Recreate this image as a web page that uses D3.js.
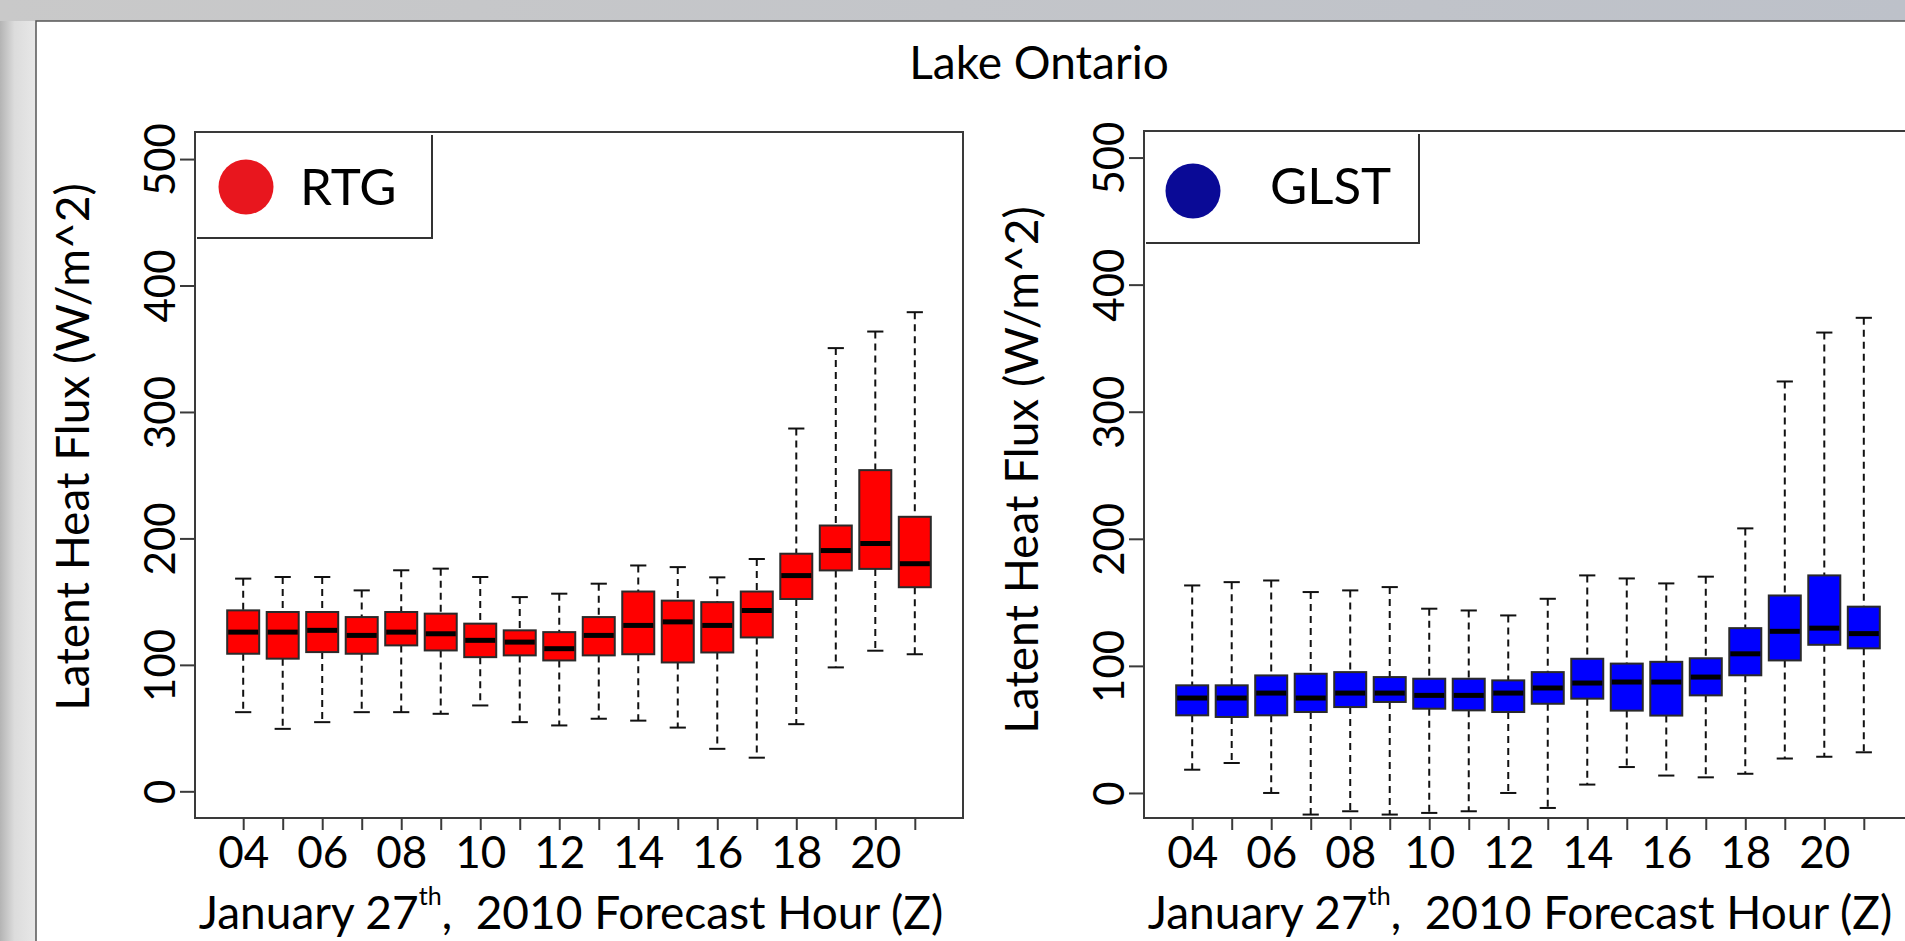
<!DOCTYPE html>
<html lang="en">
<head>
<meta charset="UTF-8">
<title>Lake Ontario - Latent Heat Flux</title>
<script src="https://d3js.org/d3.v7.min.js"></script>
<style>
  body { margin: 0; overflow: hidden; background: #cfcfcf; }
  svg { display: block; font-family: Lato, "Open Sans", sans-serif; }
  .whisker { stroke: #111; stroke-width: 2; stroke-dasharray: 7,5; }
  .staple { stroke: #111; stroke-width: 2; }
  .box { stroke: #2a2a2a; stroke-width: 2; }
  .median { stroke: #000; stroke-width: 5; }
  .frame { fill: none; stroke: #3a3a3a; stroke-width: 2; }
  .legend-line { fill: none; stroke: #333; stroke-width: 2; }
  .axis path.domain { display: none; }
  .axis line { stroke: #3a3a3a; stroke-width: 2; }
</style>
</head>
<body>
<svg id="chart" width="1905" height="941"></svg>
<script>
// forecast hours (Z), one box per hour
const hours = ["04","05","06","07","08","09","10","11","12","13","14","15","16","17","18","19","20","21"];
const yTicks = [0, 100, 200, 300, 400, 500];

// RTG run: whisker low, Q1, median, Q3, whisker high (W/m^2)
const rtgLow  = [62.6, 49.4, 54.7, 62.6, 62.6, 61.3, 67.9, 54.7, 52.1, 57.4, 55.9, 50.4, 33.6, 26.6, 53.1, 98.0, 111.2, 108.4];
const rtgQ1   = [108.8, 104.9, 110.1, 108.8, 115.4, 111.4, 106.1, 107.5, 103.5, 107.5, 108.4, 101.9, 109.8, 121.7, 152.1, 174.7, 175.9, 161.4];
const rtgMed  = [125.9, 125.9, 127.3, 123.3, 125.9, 124.6, 119.4, 118.0, 112.8, 123.3, 131.2, 134.0, 131.2, 143.0, 170.6, 190.4, 196.0, 180.0];
const rtgQ3   = [143.1, 141.8, 141.8, 137.8, 141.8, 140.5, 132.6, 127.3, 125.9, 137.8, 158.0, 150.8, 149.6, 158.0, 187.9, 210.2, 254.0, 217.1];
const rtgHigh = [168.2, 169.5, 169.5, 158.9, 174.8, 176.1, 169.5, 153.6, 156.3, 164.2, 178.6, 177.3, 169.2, 183.7, 286.9, 350.5, 363.6, 378.9];

// GLST run
const glstLow  = [18.3, 23.6, 0, -17.0, -14.4, -17.0, -15.7, -14.4, 0, -11.8, 6.6, 20.4, 13.7, 12.3, 15.1, 27.1, 28.5, 32.0];
const glstQ1   = [61.1, 59.8, 61.1, 63.7, 67.6, 71.6, 66.3, 65.0, 63.7, 70.2, 74.2, 64.8, 60.9, 76.8, 92.6, 104.3, 116.6, 113.8];
const glstMed  = [74.7, 74.7, 78.6, 74.7, 78.6, 78.6, 76.8, 76.8, 78.6, 82.6, 86.5, 87.3, 87.3, 91.2, 109.5, 127.2, 129.7, 125.4];
const glstQ3   = [84.7, 84.7, 92.5, 93.8, 95.1, 91.2, 89.9, 89.9, 88.6, 95.1, 105.6, 101.8, 103.2, 106.0, 129.7, 155.4, 171.2, 146.6];
const glstHigh = [163.3, 165.9, 167.2, 158.1, 159.4, 162.0, 145.0, 143.6, 139.7, 152.8, 171.2, 168.8, 164.9, 170.2, 208.2, 323.8, 362.3, 373.9];

const svg = d3.select("#chart");
const defs = svg.append("defs");

// slide background behind the white panel
const gTop = defs.append("linearGradient").attr("id", "bgTop");
gTop.append("stop").attr("offset", "0%").attr("stop-color", "#c9c9c9");
gTop.append("stop").attr("offset", "100%").attr("stop-color", "#bdc1c9");
const gLeft = defs.append("linearGradient").attr("id", "bgLeft");
gLeft.append("stop").attr("offset", "0%").attr("stop-color", "#b4b4b4");
gLeft.append("stop").attr("offset", "40%").attr("stop-color", "#dcdcdc");
gLeft.append("stop").attr("offset", "100%").attr("stop-color", "#e8e8e8");

svg.append("rect").attr("width", 1905).attr("height", 941).attr("fill", "url(#bgTop)");
svg.append("rect").attr("y", 21).attr("width", 36).attr("height", 920).attr("fill", "url(#bgLeft)");

// white figure panel
svg.append("rect").attr("x", 36).attr("y", 21).attr("width", 1880).attr("height", 930)
  .attr("fill", "#fff").attr("stroke", "#555").attr("stroke-width", 1.5);

svg.append("text")
  .attr("x", 1039).attr("y", 79)
  .attr("text-anchor", "middle")
  .attr("font-size", 46)
  .text("Lake Ontario");

const panels = [
  { name: "RTG", fill: "#ff0000", dot: "#e8161e", left: 195, top: 132, yDom: [-21.1, 521.4],
    low: rtgLow, q1: rtgQ1, med: rtgMed, q3: rtgQ3, high: rtgHigh,
    legW: 237, legH: 106, dotX: 51, dotY: 55, textX: 105, labelY: 447 },
  { name: "GLST", fill: "#0000ff", dot: "#0a0a96", left: 1144, top: 131, yDom: [-19.7, 520.9],
    low: glstLow, q1: glstQ1, med: glstMed, q3: glstQ3, high: glstHigh,
    legW: 275, legH: 112, dotX: 49, dotY: 60, textX: 126, labelY: 470 }
];

const plotW = 768, bottom = 818;

panels.forEach(p => {
  const x = d3.scaleLinear().domain([-0.22, 19.22]).range([p.left, p.left + plotW]);
  const y = d3.scaleLinear().domain(p.yDom).range([bottom, p.top]);
  const step = x(2) - x(1);
  const boxW = step * 0.81, capW = step * 0.41;
  const g = svg.append("g");

  const rows = hours.map((h, i) => ({
    pos: i + 1, low: p.low[i], q1: p.q1[i], med: p.med[i], q3: p.q3[i], high: p.high[i]
  }));

  // whiskers
  g.selectAll(".wu").data(rows).enter().append("line").attr("class", "whisker")
    .attr("x1", d => x(d.pos)).attr("x2", d => x(d.pos))
    .attr("y1", d => y(d.high)).attr("y2", d => y(d.q3));
  g.selectAll(".wl").data(rows).enter().append("line").attr("class", "whisker")
    .attr("x1", d => x(d.pos)).attr("x2", d => x(d.pos))
    .attr("y1", d => y(d.q1)).attr("y2", d => y(d.low));
  // staples
  ["high", "low"].forEach(k => {
    g.selectAll(".st-" + k).data(rows).enter().append("line").attr("class", "staple")
      .attr("x1", d => x(d.pos) - capW / 2).attr("x2", d => x(d.pos) + capW / 2)
      .attr("y1", d => y(d[k])).attr("y2", d => y(d[k]));
  });
  // boxes
  g.selectAll(".box").data(rows).enter().append("rect").attr("class", "box")
    .attr("x", d => x(d.pos) - boxW / 2).attr("width", boxW)
    .attr("y", d => y(d.q3)).attr("height", d => y(d.q1) - y(d.q3))
    .attr("fill", p.fill);
  g.selectAll(".median").data(rows).enter().append("line").attr("class", "median")
    .attr("x1", d => x(d.pos) - boxW / 2 + 1).attr("x2", d => x(d.pos) + boxW / 2 - 1)
    .attr("y1", d => y(d.med)).attr("y2", d => y(d.med));

  // plot frame
  svg.append("rect").attr("class", "frame")
    .attr("x", p.left).attr("y", p.top).attr("width", plotW).attr("height", bottom - p.top);

  // y axis with rotated labels
  const ya = svg.append("g").attr("class", "axis")
    .attr("transform", `translate(${p.left},0)`)
    .call(d3.axisLeft(y).tickValues(yTicks).tickSize(15).tickFormat(d3.format("d")));
  ya.attr("font-size", 42).attr("font-family", "Lato, sans-serif");
  ya.selectAll("text")
    .attr("x", null).attr("dy", null).attr("fill", "#000")
    .attr("text-anchor", "middle")
    .attr("transform", "translate(-20,0) rotate(-90)");

  // x axis: a tick for each hour, labels on even hours
  const xa = svg.append("g").attr("class", "axis")
    .attr("transform", `translate(0,${bottom})`)
    .call(d3.axisBottom(x).tickValues(rows.map(d => d.pos)).tickSize(12)
      .tickFormat(d => (d - 1) % 2 === 0 ? hours[d - 1] : ""));
  xa.attr("font-size", 44).attr("font-family", "Lato, sans-serif");
  xa.selectAll("text").attr("y", 50).attr("dy", null).attr("fill", "#000");

  // axis titles
  svg.append("text")
    .attr("transform", `translate(${p.left - 106},${p.labelY}) rotate(-90)`)
    .attr("text-anchor", "middle").attr("font-size", 46)
    .text("Latent Heat Flux (W/m^2)");

  const xl = svg.append("text")
    .attr("x", p.left + plotW / 2 - 8).attr("y", 929)
    .attr("text-anchor", "middle").attr("font-size", 46)
    .style("white-space", "pre");
  xl.append("tspan").text("January 27");
  xl.append("tspan").attr("font-size", 25).attr("dy", -24).text("th");
  xl.append("tspan").attr("dy", 24).text(",  2010 Forecast Hour (Z)");

  // legend block in the top-left corner of the plot
  svg.append("path").attr("class", "legend-line")
    .attr("d", `M${p.left + 2},${p.top + p.legH} H${p.left + p.legW} M${p.left + p.legW},${p.top + 3} V${p.top + p.legH + 1}`);
  svg.append("circle")
    .attr("cx", p.left + p.dotX).attr("cy", p.top + p.dotY).attr("r", 27.5)
    .attr("fill", p.dot);
  svg.append("text")
    .attr("x", p.left + p.textX).attr("y", p.top + 73)
    .attr("font-size", 51)
    .text(p.name);
});
</script>
</body>
</html>
